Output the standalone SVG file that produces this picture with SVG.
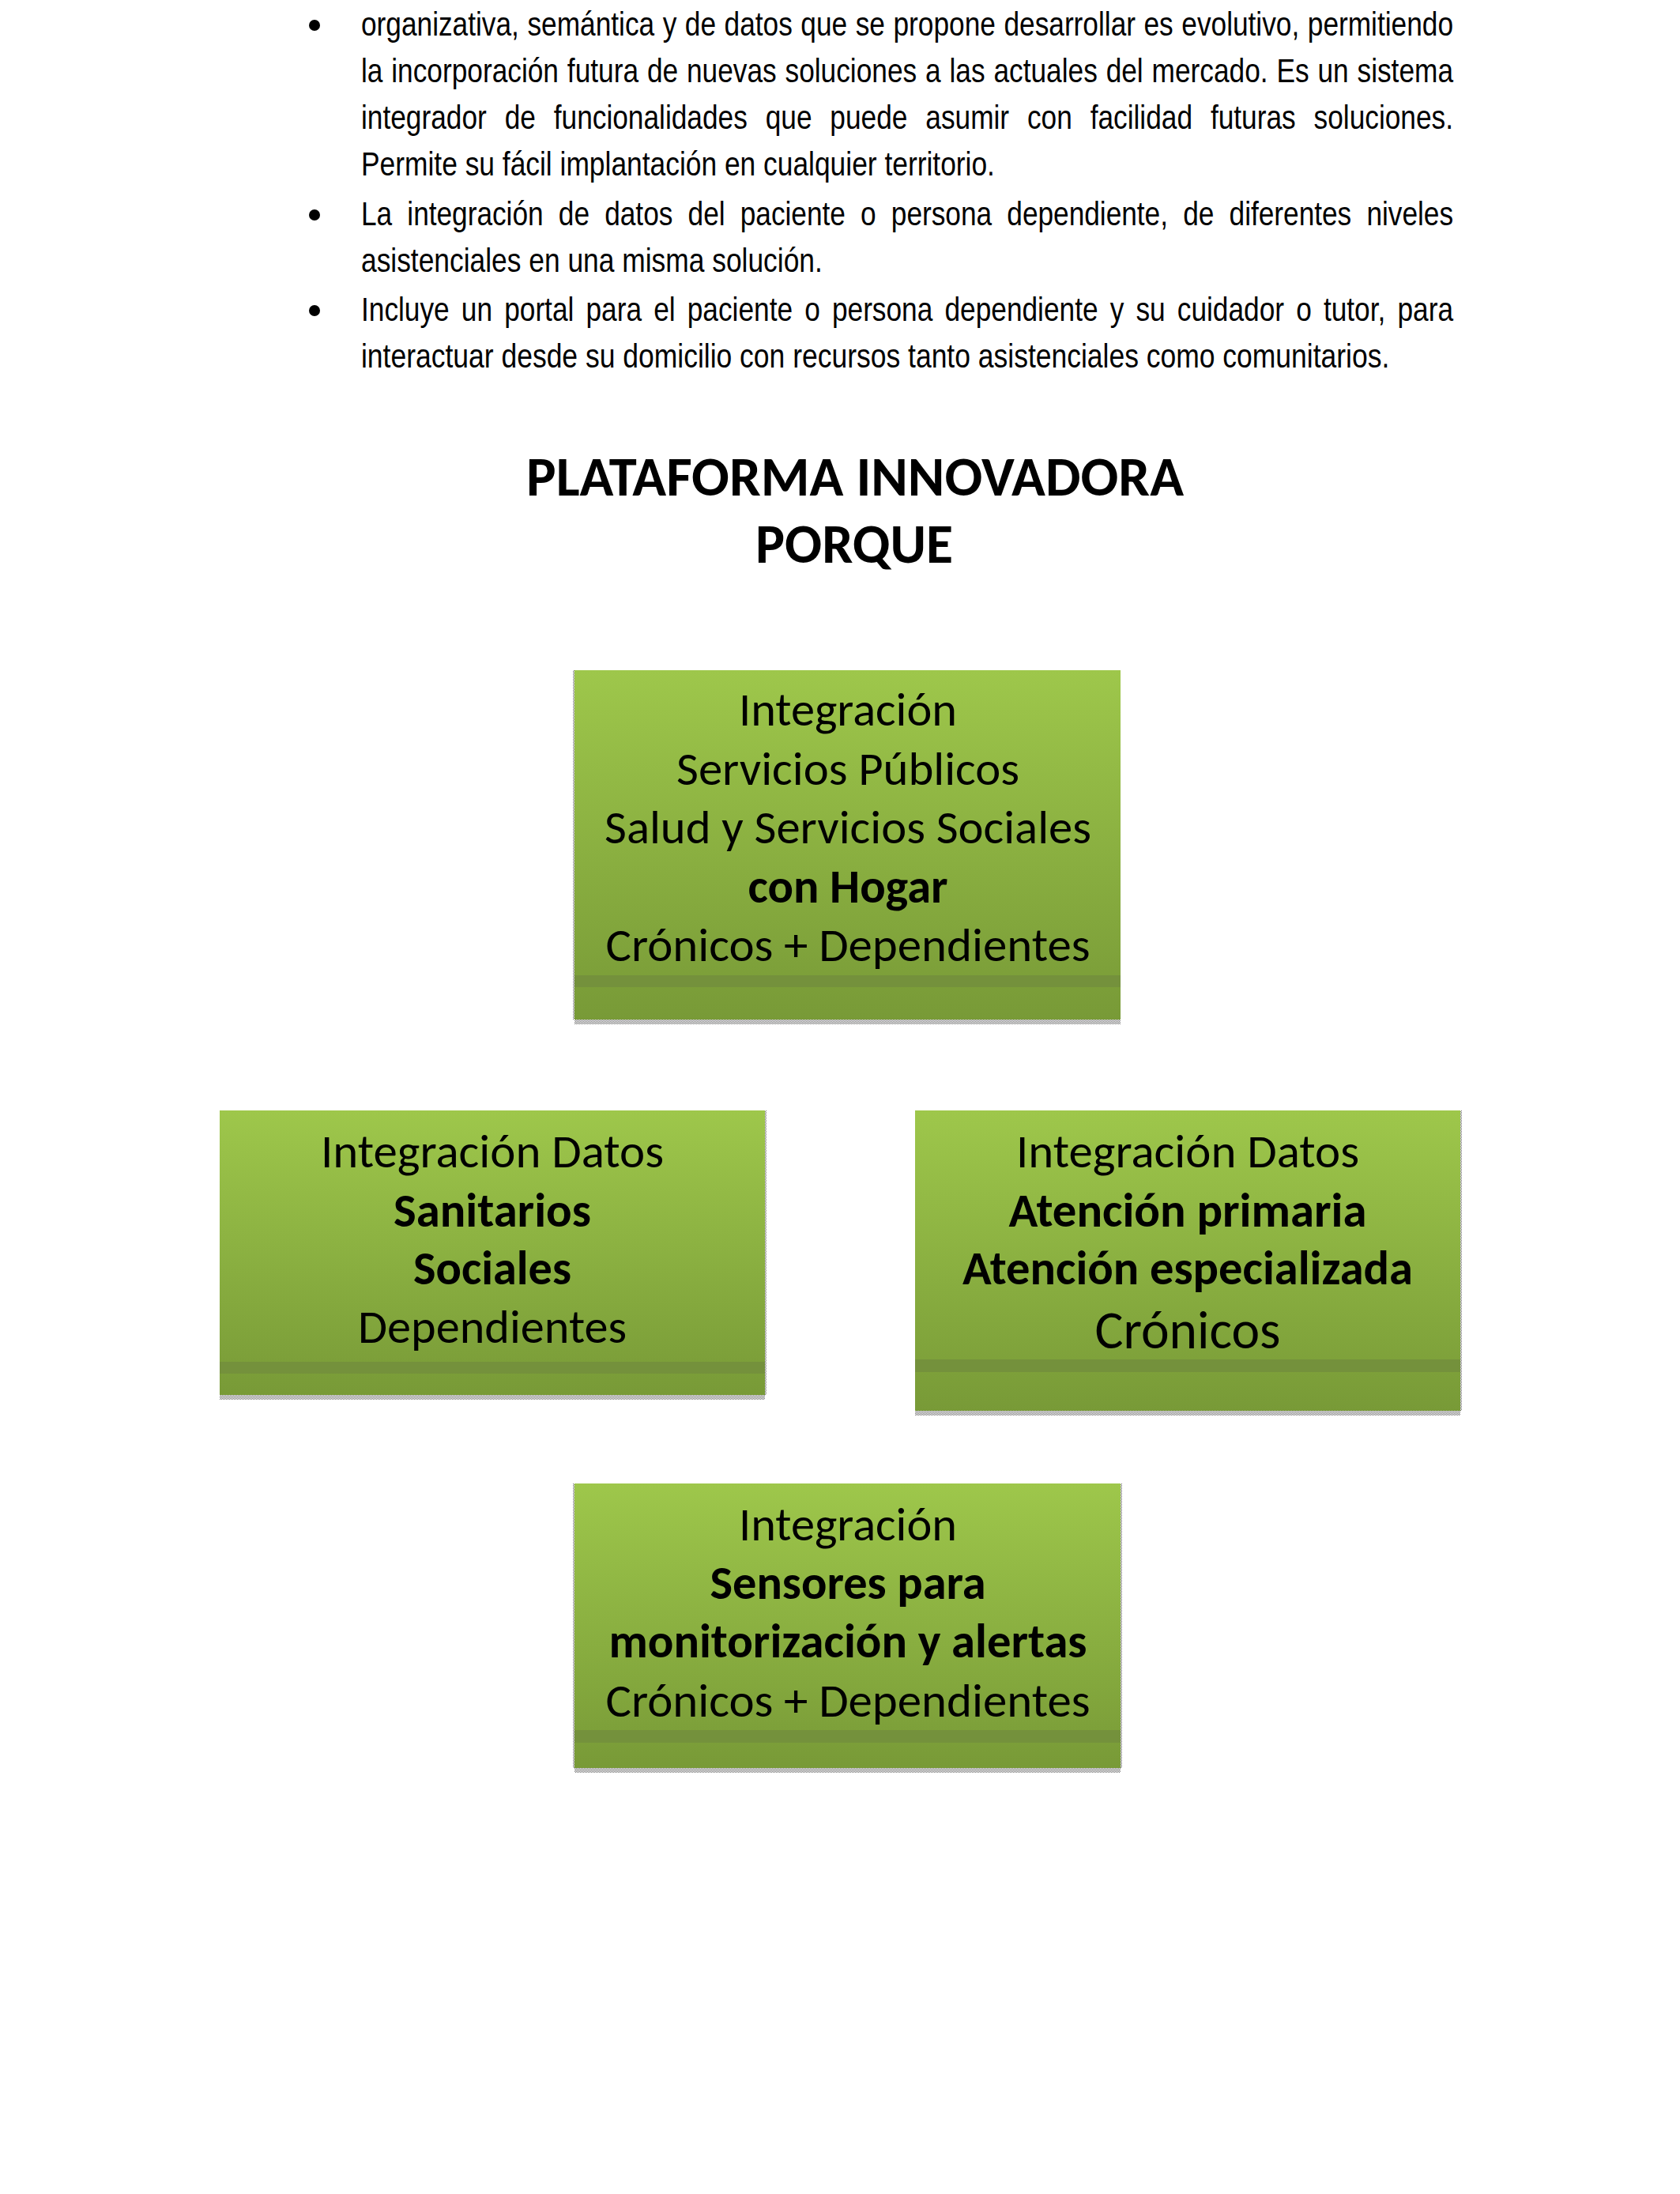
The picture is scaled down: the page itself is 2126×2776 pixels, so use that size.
<svg xmlns="http://www.w3.org/2000/svg" width="2126" height="2776" viewBox="0 0 2126 2776">
<style>
.body{font-family:"Liberation Sans",Arial,sans-serif;font-size:43px;fill:#000}
.title{font-family:Carlito,Calibri,Lato,"Liberation Sans",sans-serif;font-size:70px;font-weight:bold;fill:#000;text-anchor:middle}
.bx{font-family:Carlito,Calibri,Lato,"Liberation Sans",sans-serif;font-size:60px;fill:#000;text-anchor:middle}
.b{font-weight:bold}
.big{font-size:68px}
.box{fill:url(#g)}
.band{fill:#74913c}
.shadow{fill:url(#dots)}
</style>
<defs>
<linearGradient id="g" x1="0" y1="0" x2="0" y2="1">
<stop offset="0" stop-color="#9ec74b"/>
<stop offset="1" stop-color="#789a37"/>
</linearGradient>
<pattern id="dots" width="2" height="2" patternUnits="userSpaceOnUse">
<rect width="2" height="2" fill="#ffffff"/>
<rect width="1" height="1" fill="#7a7a7a"/>
<rect x="1" y="1" width="1" height="1" fill="#7a7a7a"/>
</pattern>
</defs>
<rect width="2126" height="2776" fill="#ffffff"/>

<g id="bullets">
<circle cx="398" cy="32" r="7"/>
<circle cx="398" cy="272" r="7"/>
<circle cx="398" cy="393" r="7"/>
</g>
<g id="body-text" class="body" transform="scale(0.82,1)">
<text x="557.3" y="45" word-spacing="0.9" textLength="1685.4" lengthAdjust="spacing">organizativa, semántica y de datos que se propone desarrollar es evolutivo, permitiendo</text>
<text x="557.3" y="104" word-spacing="1.3" textLength="1685.4" lengthAdjust="spacing">la incorporación futura de nuevas soluciones a las actuales del mercado. Es un sistema</text>
<text x="557.3" y="163" word-spacing="15.9" textLength="1685.4" lengthAdjust="spacing">integrador de funcionalidades que puede asumir con facilidad futuras soluciones.</text>
<text x="557.3" y="222" textLength="978" lengthAdjust="spacingAndGlyphs">Permite su fácil implantación en cualquier territorio.</text>
<text x="557.3" y="285" word-spacing="11.5" textLength="1685.4" lengthAdjust="spacing">La integración de datos del paciente o persona dependiente, de diferentes niveles</text>
<text x="557.3" y="344" textLength="712" lengthAdjust="spacingAndGlyphs">asistenciales en una misma solución.</text>
<text x="557.3" y="406" word-spacing="6.5" textLength="1685.4" lengthAdjust="spacing">Incluye un portal para el paciente o persona dependiente y su cuidador o tutor, para</text>
<text x="557.3" y="465" textLength="1587" lengthAdjust="spacingAndGlyphs">interactuar desde su domicilio con recursos tanto asistenciales como comunitarios.</text>
</g>

<g id="title" class="title">
<text x="1082" y="627" textLength="832" lengthAdjust="spacingAndGlyphs">PLATAFORMA INNOVADORA</text>
<text x="1081" y="712" textLength="250" lengthAdjust="spacingAndGlyphs">PORQUE</text>
</g>

<g id="connectors"/>

<g id="node-hogar">
<rect class="box" x="727" y="848" width="691" height="442"/>
<rect class="band" x="727" y="1234" width="691" height="15"/>
<rect class="shadow" x="727" y="1290" width="691" height="6"/>
<rect class="shadow" x="725" y="848" width="2" height="442"/>
<g class="bx">
<text x="1073" y="918" textLength="276" lengthAdjust="spacingAndGlyphs">Integración</text>
<text x="1073" y="993" textLength="434" lengthAdjust="spacingAndGlyphs">Servicios Públicos</text>
<text x="1073" y="1067" textLength="616" lengthAdjust="spacingAndGlyphs">Salud y Servicios Sociales</text>
<text class="b" x="1073" y="1142" textLength="253" lengthAdjust="spacingAndGlyphs">con Hogar</text>
<text x="1073" y="1216" textLength="613" lengthAdjust="spacingAndGlyphs">Crónicos + Dependientes</text>
</g>
</g>

<g id="node-sanitarios">
<rect class="box" x="278" y="1405" width="690" height="360"/>
<rect class="band" x="278" y="1723" width="690" height="15"/>
<rect class="shadow" x="278" y="1765" width="690" height="6"/>
<rect class="shadow" x="968" y="1405" width="2" height="360"/>
<g class="bx">
<text x="623" y="1477" textLength="434" lengthAdjust="spacingAndGlyphs">Integración Datos</text>
<text class="b" x="623" y="1552" textLength="250" lengthAdjust="spacingAndGlyphs">Sanitarios</text>
<text class="b" x="623" y="1625" textLength="200" lengthAdjust="spacingAndGlyphs">Sociales</text>
<text x="623" y="1699" textLength="340" lengthAdjust="spacingAndGlyphs">Dependientes</text>
</g>
</g>

<g id="node-atencion">
<rect class="box" x="1158" y="1405" width="690" height="380"/>
<rect class="band" x="1158" y="1720" width="690" height="16"/>
<rect class="shadow" x="1158" y="1785" width="690" height="6"/>
<rect class="shadow" x="1848" y="1405" width="2" height="380"/>
<g class="bx">
<text x="1503" y="1477" textLength="434" lengthAdjust="spacingAndGlyphs">Integración Datos</text>
<text class="b" x="1503" y="1552" textLength="453" lengthAdjust="spacingAndGlyphs">Atención primaria</text>
<text class="b" x="1503" y="1625" textLength="570" lengthAdjust="spacingAndGlyphs">Atención especializada</text>
<text class="big" x="1503" y="1706" textLength="235" lengthAdjust="spacingAndGlyphs">Crónicos</text>
</g>
</g>

<g id="node-sensores">
<rect class="box" x="727" y="1877" width="691" height="360"/>
<rect class="band" x="727" y="2189" width="691" height="16"/>
<rect class="shadow" x="727" y="2237" width="691" height="6"/>
<rect class="shadow" x="725" y="1877" width="2" height="360"/>
<rect class="shadow" x="1418" y="1877" width="2" height="360"/>
<g class="bx">
<text x="1073" y="1949" textLength="276" lengthAdjust="spacingAndGlyphs">Integración</text>
<text class="b" x="1073" y="2023" textLength="349" lengthAdjust="spacingAndGlyphs">Sensores para</text>
<text class="b" x="1073" y="2097" textLength="605" lengthAdjust="spacingAndGlyphs">monitorización y alertas</text>
<text x="1073" y="2172" textLength="613" lengthAdjust="spacingAndGlyphs">Crónicos + Dependientes</text>
</g>
</g>
</svg>
